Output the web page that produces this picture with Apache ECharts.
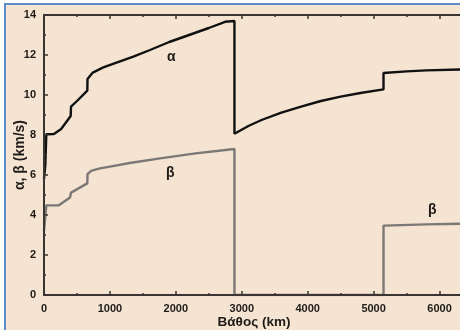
<!DOCTYPE html>
<html>
<head>
<meta charset="utf-8">
<script src="https://cdn.jsdelivr.net/npm/echarts@6/dist/echarts.min.js"></script>
<style>
  html, body { margin: 0; padding: 0; background: #ffffff; }
  #chart { width: 460px; height: 330px; }
</style>
</head>
<body>
<div id="chart"></div>
<script>
// Seismic wave speeds through the Earth versus depth.
const depthMax = 6371;               // km, centre of the Earth
const depthStep = 1000;
const speedMax = 14;                 // km/s
const speedStep = 2;

// P-wave speed α (km/s) against depth (km)
const alphaDepth = [0, 20, 20, 35, 35, 150, 260, 405, 410, 500, 657, 660, 740, 900, 1100, 1355, 1608, 1900, 2200, 2500, 2747, 2889,
                    2889, 3100, 3300, 3600, 3900, 4200, 4500, 4800, 5150, 5150, 5500, 5800, 6371];
const alphaSpeed = [5.8, 5.8, 6.5, 6.5, 8.04, 8.05, 8.3, 8.95, 9.42, 9.7, 10.22, 10.8, 11.12, 11.38, 11.62, 11.92, 12.25, 12.65, 13.0, 13.35, 13.66, 13.7,
                    8.06, 8.45, 8.75, 9.12, 9.42, 9.7, 9.92, 10.1, 10.28, 11.1, 11.18, 11.23, 11.28];

// S-wave speed β (km/s) against depth (km)
const betaDepth = [0, 20, 20, 35, 35, 220, 395, 410, 657, 660, 723, 850, 1000, 1300, 1760, 2300, 2889,
                   2889, 5150, 5150, 5800, 6371];
const betaSpeed = [3.2, 3.2, 3.9, 3.9, 4.48, 4.48, 4.87, 5.12, 5.58, 6.05, 6.22, 6.33, 6.42, 6.6, 6.83, 7.08, 7.3,
                   0, 0, 3.47, 3.53, 3.57];

const toPairs = (xs, ys) => xs.map((x, i) => [x, ys[i]]);

const FONT = 'Liberation Sans, Arial, sans-serif';
const AXIS_COLOR = '#3b3531';
const TEXT_COLOR = '#1e1a18';

const tickStyle = { show: true, inside: true, length: 4, lineStyle: { color: AXIS_COLOR, width: 1.5 } };
const minorStyle = { show: true, splitNumber: 2, length: 2, lineStyle: { color: AXIS_COLOR, width: 1.5 } };
const plainNumber = v => String(v);

const chart = echarts.init(document.getElementById('chart'), null, { renderer: 'canvas' });

chart.setOption({
  backgroundColor: '#ffffff',
  animation: false,
  graphic: [
    { type: 'rect', z: -10, silent: true, shape: { x: 6, y: 5, width: 460, height: 330 }, style: { fill: '#f4e4d1' } },
    { type: 'rect', z: -9, silent: true, shape: { x: 4, y: 3, width: 460, height: 2 }, style: { fill: '#5b8cc9' } },
    { type: 'rect', z: -9, silent: true, shape: { x: 4, y: 3, width: 2, height: 330 }, style: { fill: '#5b8cc9' } },
    { type: 'text', z: 20, left: 167, top: 50, style: { text: 'α', font: 'bold 14px ' + FONT, fill: TEXT_COLOR } },
    { type: 'text', z: 20, left: 166, top: 166, style: { text: 'β', font: 'bold 14px ' + FONT, fill: TEXT_COLOR } },
    { type: 'text', z: 20, left: 428, top: 203, style: { text: 'β', font: 'bold 14px ' + FONT, fill: TEXT_COLOR } }
  ],
  grid: { left: 44, top: 15, right: -4, bottom: 35, containLabel: false, outerBoundsMode: 'none' },
  xAxis: [
    {
      type: 'value', min: 0, max: depthMax, interval: depthStep, z: 5,
      name: 'Βάθος (km)', nameLocation: 'middle', nameGap: 20, nameMoveOverlap: false,
      nameTextStyle: { fontFamily: FONT, fontWeight: 'bold', fontSize: 13.5, color: TEXT_COLOR },
      axisLine: { show: true, onZero: false, lineStyle: { color: AXIS_COLOR, width: 2 } },
      axisTick: tickStyle, minorTick: minorStyle,
      axisLabel: { margin: 8, fontFamily: FONT, fontWeight: 'bold', fontSize: 11, color: TEXT_COLOR, showMaxLabel: false, formatter: plainNumber },
      splitLine: { show: false }
    },
    {
      type: 'value', position: 'top', min: 0, max: depthMax, interval: depthStep, z: 5,
      axisLine: { show: true, onZero: false, lineStyle: { color: AXIS_COLOR, width: 2 } },
      axisTick: tickStyle, minorTick: minorStyle,
      axisLabel: { show: false }, splitLine: { show: false }
    }
  ],
  yAxis: [
    {
      type: 'value', min: 0, max: speedMax, interval: speedStep, z: 5,
      name: 'α, β (km/s)', nameLocation: 'middle', nameGap: 17, nameMoveOverlap: false,
      nameTextStyle: { fontFamily: FONT, fontWeight: 'bold', fontSize: 14, color: TEXT_COLOR },
      axisLine: { show: true, onZero: false, lineStyle: { color: AXIS_COLOR, width: 2 } },
      axisTick: tickStyle, minorTick: minorStyle,
      axisLabel: { margin: 8, fontFamily: FONT, fontWeight: 'bold', fontSize: 11, color: TEXT_COLOR, formatter: plainNumber },
      splitLine: { show: false }
    },
    {
      type: 'value', position: 'right', min: 0, max: speedMax, interval: speedStep, z: 5,
      axisLine: { show: true, onZero: false, lineStyle: { color: AXIS_COLOR, width: 2 } },
      axisTick: tickStyle, minorTick: minorStyle,
      axisLabel: { show: false }, splitLine: { show: false }
    }
  ],
  series: [
    {
      name: 'α', type: 'line', xAxisIndex: 0, yAxisIndex: 0, z: 3,
      data: toPairs(alphaDepth, alphaSpeed), showSymbol: false, smooth: false,
      lineStyle: { color: '#111111', width: 2.4 }
    },
    {
      name: 'β', type: 'line', xAxisIndex: 0, yAxisIndex: 0, z: 2,
      data: toPairs(betaDepth, betaSpeed), showSymbol: false, smooth: false,
      lineStyle: { color: '#7b7876', width: 2.4 }
    }
  ]
});
</script>
</body>
</html>
